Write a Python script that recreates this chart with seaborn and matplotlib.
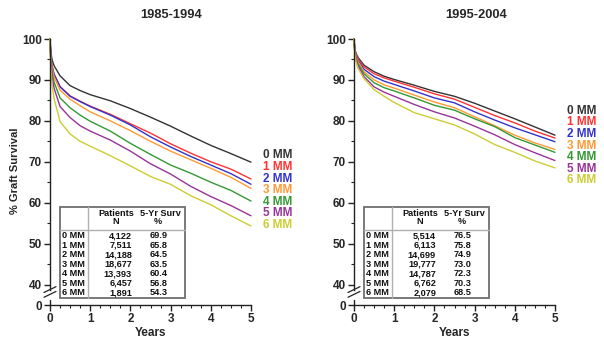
import matplotlib
matplotlib.use("Agg")
import matplotlib.pyplot as plt
import seaborn as sns
import pandas as pd
import numpy as np
from matplotlib.patches import Rectangle
from matplotlib.ticker import MultipleLocator

# ---------------- data ----------------
groups = ["0 MM", "1 MM", "2 MM", "3 MM", "4 MM", "5 MM", "6 MM"]
colors = ["#333333", "#ff3333", "#3333cc", "#ff9933", "#339933", "#993399", "#cccc33"]
years = [0, 0.02, 0.05, 0.1, 0.25, 0.5, 0.75, 1, 1.5, 2, 2.5, 3, 3.5, 4, 4.5, 5]

# 1985-1994
a_0mm = [100, 97.0, 95.0, 93.5, 91.0, 88.6, 87.4, 86.4, 84.9, 83.0, 80.9, 78.7, 76.3, 74.0, 72.0, 69.9]
a_1mm = [100, 96.0, 93.5, 91.5, 88.4, 86.1, 84.8, 83.6, 81.6, 79.3, 77.0, 74.4, 72.1, 70.0, 68.2, 65.8]
a_2mm = [100, 96.0, 93.5, 91.4, 88.3, 86.0, 84.7, 83.5, 81.4, 79.0, 76.1, 73.6, 71.3, 69.2, 67.1, 64.5]
a_3mm = [100, 95.5, 93.0, 90.8, 87.5, 85.3, 83.7, 82.2, 80.0, 77.6, 75.0, 72.6, 70.5, 68.4, 66.2, 63.5]
a_4mm = [100, 95.0, 92.0, 89.5, 85.6, 83.2, 81.4, 79.9, 77.5, 74.5, 71.8, 69.2, 67.2, 65.0, 63.0, 60.4]
a_5mm = [100, 94.5, 91.0, 88.0, 83.5, 80.8, 78.8, 77.5, 75.3, 72.6, 69.5, 67.0, 64.0, 61.5, 59.3, 56.8]
a_6mm = [100, 93.0, 89.0, 85.5, 79.8, 76.8, 75.0, 73.8, 71.5, 69.0, 66.4, 64.5, 61.7, 59.5, 56.8, 54.3]

# 1995-2004
b_0mm = [100, 97.5, 96.5, 95.5, 93.6, 92.0, 90.9, 90.1, 88.7, 87.2, 86.0, 84.3, 82.4, 80.5, 78.5, 76.5]
b_1mm = [100, 97.5, 96.3, 95.2, 93.2, 91.5, 90.5, 89.7, 88.2, 86.6, 85.3, 83.3, 81.3, 79.5, 77.5, 75.8]
b_2mm = [100, 97.3, 96.0, 94.8, 92.6, 90.8, 89.7, 88.9, 87.3, 85.6, 84.4, 82.2, 80.2, 78.3, 76.6, 74.9]
b_3mm = [100, 97.2, 95.8, 94.5, 92.0, 90.0, 88.8, 88.0, 86.3, 84.6, 83.2, 81.0, 78.8, 76.5, 74.6, 73.0]
b_4mm = [100, 97.0, 95.5, 94.0, 91.5, 89.3, 88.1, 87.3, 85.6, 83.8, 82.6, 80.5, 78.6, 75.9, 74.1, 72.3]
b_5mm = [100, 96.8, 95.2, 93.5, 90.8, 88.3, 87.0, 86.0, 84.0, 82.2, 80.7, 78.7, 76.6, 74.2, 72.2, 70.3]
b_6mm = [100, 96.5, 94.5, 92.8, 90.3, 87.6, 86.0, 84.5, 82.0, 80.5, 79.0, 76.8, 74.2, 72.3, 70.2, 68.5]

a_patients = ["4,122", "7,511", "14,188", "18,677", "13,393", "6,457", "1,891"]
a_surv5 = ["69.9", "65.8", "64.5", "63.5", "60.4", "56.8", "54.3"]
b_patients = ["5,514", "6,113", "14,699", "19,777", "14,787", "6,762", "2,079"]
b_surv5 = ["76.5", "75.8", "74.9", "73.0", "72.3", "70.3", "68.5"]

titles = ["1985-1994", "1995-2004"]
yticks = [35, 40, 50, 60, 70, 80, 90, 100]
ytick_labels = ["0", "40", "50", "60", "70", "80", "90", "100"]

# ---------------- style ----------------
sns.set_style("ticks")
plt.rcParams["font.family"] = ["Liberation Sans", "DejaVu Sans"]
plt.rcParams["font.weight"] = "bold"

W, H = 604, 347
fig = plt.figure(figsize=(W / 100, H / 100), dpi=100)

AX_W, AX_H = 201, 266
AX_BOTTOM = 305


def make_df(series):
    rows = []
    for g, vals in zip(groups, series):
        for x, v in zip(years, vals):
            rows.append({"Years": x, "Surv": v, "group": g})
    return pd.DataFrame(rows)


panels = [
    (50, [a_0mm, a_1mm, a_2mm, a_3mm, a_4mm, a_5mm, a_6mm], a_patients, a_surv5, 171),
    (354, [b_0mm, b_1mm, b_2mm, b_3mm, b_4mm, b_5mm, b_6mm], b_patients, b_surv5, 476),
]

for i, (left_px, series, pats, survs, title_px) in enumerate(panels):
    ax = fig.add_axes([left_px / W, (H - AX_BOTTOM) / H, AX_W / W, AX_H / H])
    df = make_df(series)
    sns.lineplot(data=df, x="Years", y="Surv", hue="group", palette=colors,
                 linewidth=1.0, legend=False, ax=ax, clip_on=False, estimator=None)
    ax.set_xlim(0, 5)
    ax.set_ylim(35, 100)
    ax.set_yticks(yticks)
    ax.set_yticklabels(ytick_labels)
    ax.set_xticks([0, 1, 2, 3, 4, 5])
    ax.xaxis.set_minor_locator(MultipleLocator(0.25))
    ax.set_yticks([45, 55, 65, 75, 85, 95], minor=True)
    ax.tick_params(axis="both", which="major", length=4, width=1, labelsize=8.5,
                   color="#222222", pad=2)
    ax.tick_params(axis="both", which="minor", length=2, width=0.8, color="#222222")
    for lab in ax.get_xticklabels() + ax.get_yticklabels():
        lab.set_fontweight("bold")
    sns.despine(ax=ax)
    ax.spines["left"].set_bounds(38.6, 100)
    ax.spines["left"].set_color("#222222")
    ax.spines["bottom"].set_color("#222222")
    ax.spines["left"].set_linewidth(1)
    ax.spines["bottom"].set_linewidth(1)
    # lower piece of the broken axis
    ax.plot([0, 0], [35, 36.3], color="#222222", lw=1, clip_on=False,
            transform=ax.transData)
    # break marks
    for dy in (0.040, 0.058):
        ax.plot([-0.03, 0.03], [dy - 0.011, dy + 0.011], color="#222222", lw=0.9,
                transform=ax.transAxes, clip_on=False)
    ax.set_xlabel("")
    ax.set_ylabel("")

    # labels at right, evenly spaced around mean of end values
    ends = [s[-1] for s in series]
    mean_end = float(np.mean(ends))
    step = 11.6 / 4.1
    for k, (g, c) in enumerate(zip(groups, colors)):
        ax.text(1.06, mean_end - (k - 3) * step + 0.9, g, color=c, fontsize=8.5,
                fontweight="bold", ha="left", va="center",
                transform=ax.get_yaxis_transform() if False else
                matplotlib.transforms.blended_transform_factory(ax.transAxes, ax.transData))

    # table
    def fx(px):
        return px / AX_W

    def fy(py):
        return (AX_BOTTOM - py) / AX_H

    x0, x1 = 10, 135
    y0, y1 = 207, 297.5
    ax.add_patch(Rectangle((fx(x0), fy(y1)), fx(x1) - fx(x0), fy(y0) - fy(y1),
                           transform=ax.transAxes, facecolor="white",
                           edgecolor="#6e6e6e", lw=1.3, zorder=5, clip_on=False))
    ax.plot([fx(38), fx(38)], [fy(y1), fy(y0)], color="#b0b0b0", lw=1,
            transform=ax.transAxes, zorder=6, clip_on=False)
    ax.plot([fx(x0), fx(x1)], [fy(229.5), fy(229.5)], color="#b0b0b0", lw=1,
            transform=ax.transAxes, zorder=6, clip_on=False)
    tkw = dict(transform=ax.transAxes, zorder=7, fontsize=6.6, fontweight="bold",
               color="#111111", va="center")
    ax.text(fx(66), fy(213.5), "Patients", ha="center", **tkw)
    ax.text(fx(66), fy(222), "N", ha="center", **tkw)
    ax.text(fx(110.5), fy(213.5), "5-Yr Surv", ha="center", **tkw)
    ax.text(fx(107.5), fy(222), "%", ha="center", **tkw)
    for r, (g, p, s) in enumerate(zip(groups, pats, survs)):
        yy = 236 + r * 9.45
        ax.text(fx(12), fy(yy), g, ha="left", **tkw)
        ax.text(fx(82), fy(yy), p, ha="right", **tkw)
        ax.text(fx(108.5), fy(yy), s, ha="center", **tkw)

    # xlabel
    ax.text(0.5, (AX_BOTTOM - 333) / AX_H, "Years", transform=ax.transAxes,
            ha="center", va="center", fontsize=8.5, fontweight="bold")
    # title
    fig.text(title_px / W, 1 - 15 / H, titles[i], ha="center", va="center",
             fontsize=9.3, fontweight="bold")
    if i == 0:
        fig.text(15 / W, 1 - 171 / H, "% Graft Survival", rotation=90,
                 ha="center", va="center", fontsize=8, fontweight="bold")

fig.savefig("out.png", dpi=100)
